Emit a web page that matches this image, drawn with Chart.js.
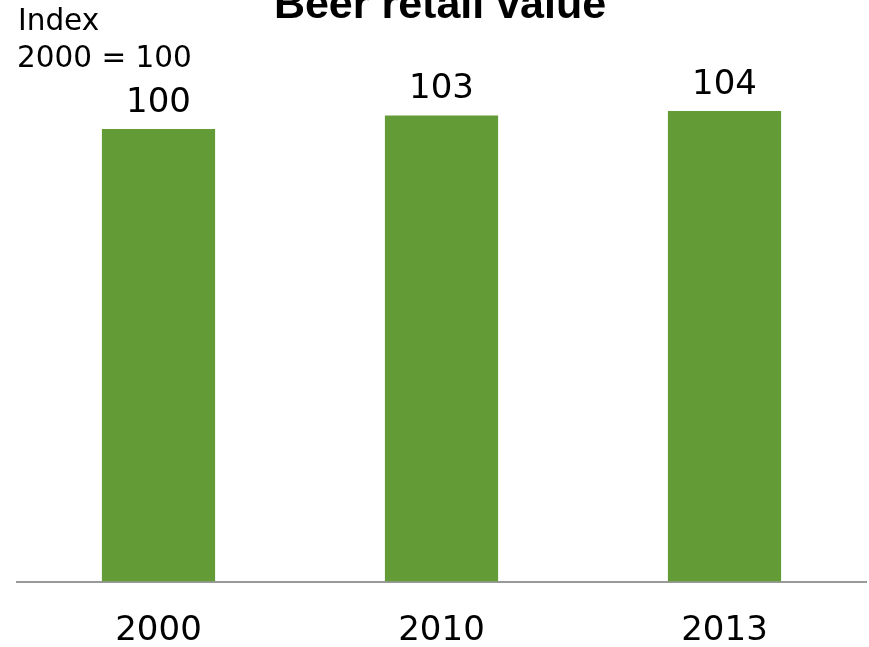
<!DOCTYPE html>
<html>
<head>
<meta charset="utf-8">
<script src="https://cdn.jsdelivr.net/npm/chart.js@4"></script>
<style>
  html, body { margin: 0; padding: 0; background: #ffffff; }
  #wrap { width: 869px; height: 647px; }
</style>
</head>
<body>
<div id="wrap"><canvas id="beer_chart" width="869" height="647"></canvas></div>
<script>
// beer retail value, index 2000 = 100
const years = ['2000', '2010', '2013'];
const indexValues = [100, 103, 104];
const titleText = 'Beer retail value';
const unitLines = ['Index', '2000 = 100'];

// title, unit note and the numbers above the bars
const textPlugin = {
  id: 'textPlugin',
  afterDatasetsDraw(chart) {
    const ctx = chart.ctx;
    ctx.save();
    ctx.fillStyle = '#000000';
    ctx.textBaseline = 'alphabetic';

    ctx.font = 'bold 43px "Liberation Sans", Arial, sans-serif';
    ctx.textAlign = 'center';
    ctx.fillText(titleText, 440, 18);

    ctx.font = '29.5px "DejaVu Sans", Verdana, sans-serif';
    ctx.textAlign = 'left';
    ctx.fillText(unitLines[0], 18, 30);
    ctx.fillText(unitLines[1], 17, 67);

    ctx.font = '34px "DejaVu Sans", Verdana, sans-serif';
    ctx.textAlign = 'center';
    const meta = chart.getDatasetMeta(0);
    meta.data.forEach(function(bar, i) {
      ctx.fillText(String(indexValues[i]), bar.x, bar.y - 17);
    });
    ctx.restore();
  }
};

const config = {
  type: 'bar',
  data: {
    labels: years,
    datasets: [{
      label: titleText,
      data: indexValues,
      backgroundColor: '#639c37',
      borderWidth: 0,
      categoryPercentage: 1.0,
      barPercentage: 0.4
    }]
  },
  options: {
    responsive: false,
    animation: false,
    layout: {
      padding: { left: 17, right: 3, top: 38.5, bottom: 0 }
    },
    plugins: {
      legend: { display: false },
      title: { display: false },
      tooltip: { enabled: false }
    },
    scales: {
      x: {
        grid: { display: false, drawTicks: false },
        border: { display: true, color: '#999999', width: 2 },
        ticks: {
          color: '#000000',
          padding: 29,
          font: { family: '"DejaVu Sans", Verdana, sans-serif', size: 34 }
        },
        afterFit: function(scale) { scale.height = 65.5; }
      },
      y: {
        display: false,
        min: 0,
        max: 120
      }
    }
  },
  plugins: [textPlugin]
};

let beer = new Chart(document.getElementById('beer_chart'), config);
</script>
</body>
</html>
